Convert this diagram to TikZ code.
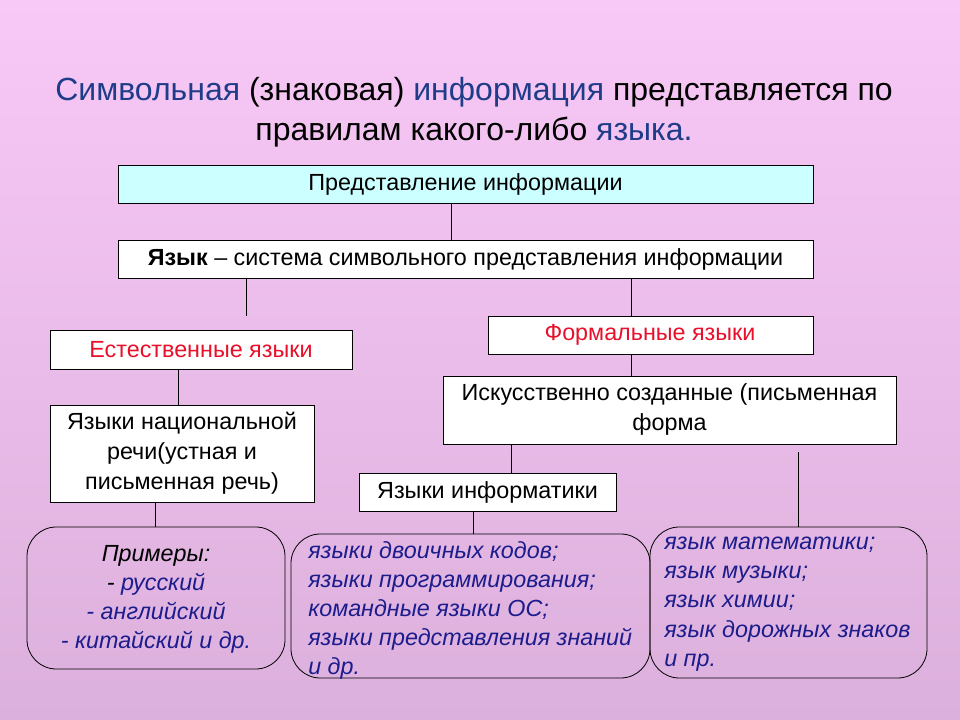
\documentclass[tikz,border=0pt]{standalone}
\usepackage{fontspec}
\setmainfont{Liberation Sans}
\definecolor{tblue}{HTML}{1F3C88}
\definecolor{tred}{HTML}{E8102A}
\definecolor{iblue}{HTML}{1C1C8C}
\definecolor{bgtop}{HTML}{F8C8F6}
\definecolor{bgbot}{HTML}{DCB0DC}
\begin{document}
\begin{tikzpicture}[x=0.75pt,y=-0.75pt,
  box/.style={draw=black,fill=white,line width=0.6pt},
  rbox/.style={draw=black,line width=0.6pt,rounded corners=22pt},
  ln/.style={line width=0.6pt},
  txt/.style={font=\fontsize{17.5}{22.5}\selectfont,align=center,inner sep=0},
  itx/.style={font=\fontsize{17.5}{21.8}\selectfont\itshape,align=left,inner sep=0}]
\shade[top color=bgtop,bottom color=bgbot] (0,0) rectangle (960,720);
\useasboundingbox (0,0) rectangle (960,720);
\node[font=\fontsize{24}{30}\selectfont,align=center] (title) at (474,112)
 {\textcolor{tblue}{Символьная} (знаковая) \textcolor{tblue}{информация} представляется по\\
  правилам какого-либо \textcolor{tblue}{языка.}};
\draw[box,fill={rgb,255:red,204;green,255;blue,255}] (118,165) rectangle (813,203);
\node[txt] (b1) at (465.5,184) {Представление информации};
\draw[box] (118,240) rectangle (813,278);
\node[txt] (b2) at (465.5,259) {\textbf{Язык} – система символьного представления информации};
\draw[box] (50,330) rectangle (352,369);
\node[txt,text=tred] (b3) at (201,350) {Естественные языки};
\draw[box] (488,316) rectangle (813,354);
\node[txt,text=tred] (b4) at (650,335) {Формальные языки};
\draw[box] (50,405) rectangle (314,502);
\node[txt] (b5) at (182,453.5) {Языки национальной\\речи(устная и\\письменная речь)};
\draw[box] (443,376) rectangle (896,444);
\node[txt] (b6) at (669.5,409) {Искусственно созданные (письменная\\форма};
\draw[box] (359,473) rectangle (616,511);
\node[txt] (b7) at (487.5,492) {Языки информатики};
\draw[rbox] (27,527) rectangle (285,669);
\draw[rbox] (291,534) rectangle (650,678);
\draw[rbox] (650,527) rectangle (927,678);
\node[itx,align=center] (r1) at (156,599) {Примеры:\\- \textcolor{iblue}{русский}\\\textcolor{iblue}{- английский}\\\textcolor{iblue}{- китайский и др.}};
\node[itx,text=iblue,anchor=north west] (r2) at (308,541) {языки двоичных кодов;\\языки программирования;\\командные языки ОС;\\языки представления знаний\\и др.};
\node[itx,text=iblue,anchor=north west] (r3) at (664,537) {язык математики;\\язык музыки;\\язык химии;\\язык дорожных знаков\\и пр.};
\draw[ln] (451,203) -- (451,240);
\draw[ln] (246,278) -- (246,316);
\draw[ln] (631,278) -- (631,316);
\draw[ln] (178,369) -- (178,405);
\draw[ln] (631,354) -- (631,376);
\draw[ln] (511,444) -- (511,473);
\draw[ln] (155,502) -- (155,527);
\draw[ln] (473,511) -- (473,534);
\draw[ln] (798,452) -- (798,527);
\end{tikzpicture}
\end{document}
